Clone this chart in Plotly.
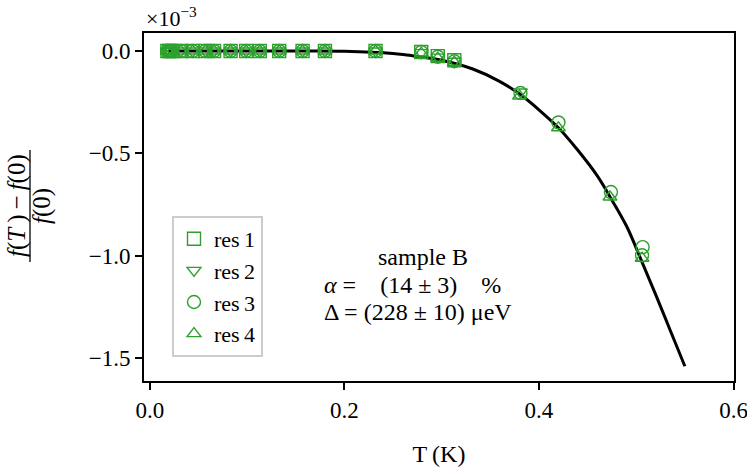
import plotly.graph_objects as go

# ---------------- data (y in units of 1e-3) ----------------
T_low = [0.018, 0.020, 0.023, 0.032, 0.044, 0.057, 0.066, 0.083, 0.099, 0.113,
         0.133, 0.157, 0.180, 0.232, 0.279, 0.296, 0.313]

res1_T = T_low
res1_y = [0.0, 0.0, 0.0, 0.0, 0.0, 0.0, 0.0, 0.0, 0.0, 0.0,
          0.0, 0.0, 0.0, 0.0, -0.005, -0.025, -0.045]

res2_T = T_low + [0.381]
res2_y = [0.0, 0.0, 0.0, 0.0, 0.0, 0.0, 0.0, 0.0, 0.0, 0.0,
          0.0, 0.0, 0.0, 0.0, -0.008, -0.030, -0.050, -0.200]

res3_T = T_low + [0.381, 0.420, 0.474, 0.5066, 0.5060]
res3_y = [0.0, 0.0, 0.0, 0.0, 0.0, 0.0, 0.0, 0.0, 0.0, 0.0,
          0.0, 0.0, 0.0, 0.0, -0.005, -0.028, -0.050,
          -0.205, -0.349, -0.689, -0.958, -0.998]

res4_T = T_low + [0.380, 0.420, 0.473, 0.506]
res4_y = [0.0, 0.0, 0.0, 0.0, 0.0, 0.0, 0.0, 0.0, 0.0, 0.0,
          0.0, 0.0, 0.0, 0.0, -0.010, -0.035, -0.055,
          -0.220, -0.375, -0.713, -1.012]

fit_T = [0.019, 0.05, 0.10, 0.15, 0.20, 0.25, 0.264, 0.30, 0.332, 0.359, 0.3815,
         0.40, 0.42, 0.44, 0.46, 0.474, 0.49, 0.505, 0.52, 0.535, 0.55]
fit_y = [0.0, 0.0, 0.0, 0.0, -0.001, -0.012, -0.020, -0.045, -0.088, -0.147, -0.215,
         -0.287, -0.375, -0.485, -0.610, -0.720, -0.855, -1.020, -1.190, -1.365, -1.540]

x_ticks = [0.0, 0.2, 0.4, 0.6]
x_ticktext = ["0.0", "0.2", "0.4", "0.6"]
y_ticks = [0.0, -0.5, -1.0, -1.5]
y_ticktext = ["0.0", "\u22120.5", "\u22121.0", "\u22121.5"]

series = [
    ("res\u20091", res1_T, res1_y, "square-open", 13),
    ("res\u20092", res2_T, res2_y, "triangle-down-open", 12),
    ("res\u20093", res3_T, res3_y, "circle-open", 13),
    ("res\u20094", res4_T, res4_y, "triangle-up-open", 12),
]

GREEN = "#2ca02c"
FONT = "Liberation Serif"

W, H = 747, 471
PL, PR, PT, PB = 144, 734, 33, 381          # plot area in window pixels
L, R, TOP, B = PL, W - PR, PT, H - PB

fig = go.Figure()
fig.add_trace(go.Scatter(x=fit_T, y=fit_y, mode="lines", line=dict(color="black", width=3, shape="spline"),
                         showlegend=False, hoverinfo="skip"))
for name, xs, ys, sym, sz in series:
    fig.add_trace(go.Scatter(x=xs, y=ys, mode="markers", name=name,
                             marker=dict(symbol=sym, size=sz, color=GREEN,
                                         line=dict(color=GREEN, width=1.4))))

pw = PR - PL
ph = PB - PT

def px_x(p):
    return (p - PL) / pw

def px_y(p):
    return (PB - p) / ph

fig.update_layout(
    template="none",
    width=W, height=H,
    margin=dict(l=L, r=R, t=TOP, b=B, autoexpand=False),
    paper_bgcolor="white", plot_bgcolor="white",
    font=dict(family=FONT, size=23, color="black"),
    legend=dict(x=px_x(172), y=px_y(216), xanchor="left", yanchor="top",
                bgcolor="white", bordercolor="#cccccc", borderwidth=2,
                font=dict(size=22, family=FONT), itemwidth=30),
    xaxis=dict(range=[-0.006, 0.6005], tickvals=x_ticks, ticktext=x_ticktext, automargin=False,
               showgrid=False, zeroline=False, showline=True, linecolor="black", linewidth=1.8,
               mirror=True, ticks="outside", ticklen=7, tickwidth=1.5, tickcolor="black",
               ticklabeloverflow="allow",
               tickfont=dict(size=23, family=FONT),
               title=dict(text="T\u2009(K)", font=dict(size=24, family=FONT), standoff=24)),
    yaxis=dict(range=[-1.612, 0.088], tickvals=y_ticks, ticktext=y_ticktext, automargin=False,
               showgrid=False, zeroline=False, showline=True, linecolor="black", linewidth=1.8,
               mirror=True, ticks="outside", ticklen=7, tickwidth=1.5, tickcolor="black",
               tickfont=dict(size=23, family=FONT)),
)

# y-axis label as a fraction
fig.add_annotation(xref="paper", yref="paper", x=px_x(17), y=px_y(206), text="<i>f</i>(<i>T</i>\u2009)\u2009\u2212\u2009<i>f</i>(0)",
                   textangle=-90, showarrow=False, xanchor="center", yanchor="middle",
                   font=dict(size=25, family=FONT))
fig.add_annotation(xref="paper", yref="paper", x=px_x(42), y=px_y(206), text="<i>f</i>(0)",
                   textangle=-90, showarrow=False, xanchor="center", yanchor="middle",
                   font=dict(size=25, family=FONT))
fig.add_shape(type="line", xref="paper", yref="paper", x0=px_x(30), x1=px_x(30),
              y0=px_y(150), y1=px_y(262), line=dict(color="black", width=1.3))

# offset text
fig.add_annotation(xref="paper", yref="paper", x=px_x(144), y=px_y(17), text="\u00d710<sup>\u22123</sup>",
                   showarrow=False, xanchor="left", yanchor="middle", font=dict(size=22, family=FONT))

# fit text
fig.add_annotation(xref="paper", yref="paper", x=px_x(423), y=px_y(257), text="sample B",
                   showarrow=False, xanchor="center", yanchor="middle", font=dict(size=24, family=FONT))
fig.add_annotation(xref="paper", yref="paper", x=px_x(322), y=px_y(285),
                   text="<i>\u03b1</i> =\u00a0\u00a0\u00a0 (14 \u00b1 3)\u00a0\u00a0\u00a0 %",
                   showarrow=False, xanchor="left", yanchor="middle", font=dict(size=24, family=FONT))
fig.add_annotation(xref="paper", yref="paper", x=px_x(322), y=px_y(312),
                   text="\u0394 = (228 \u00b1 10) \u03bceV",
                   showarrow=False, xanchor="left", yanchor="middle", font=dict(size=24, family=FONT))

fig.write_html("out.html", config={"displayModeBar": False},
               post_script="document.body.style.margin='0';")
